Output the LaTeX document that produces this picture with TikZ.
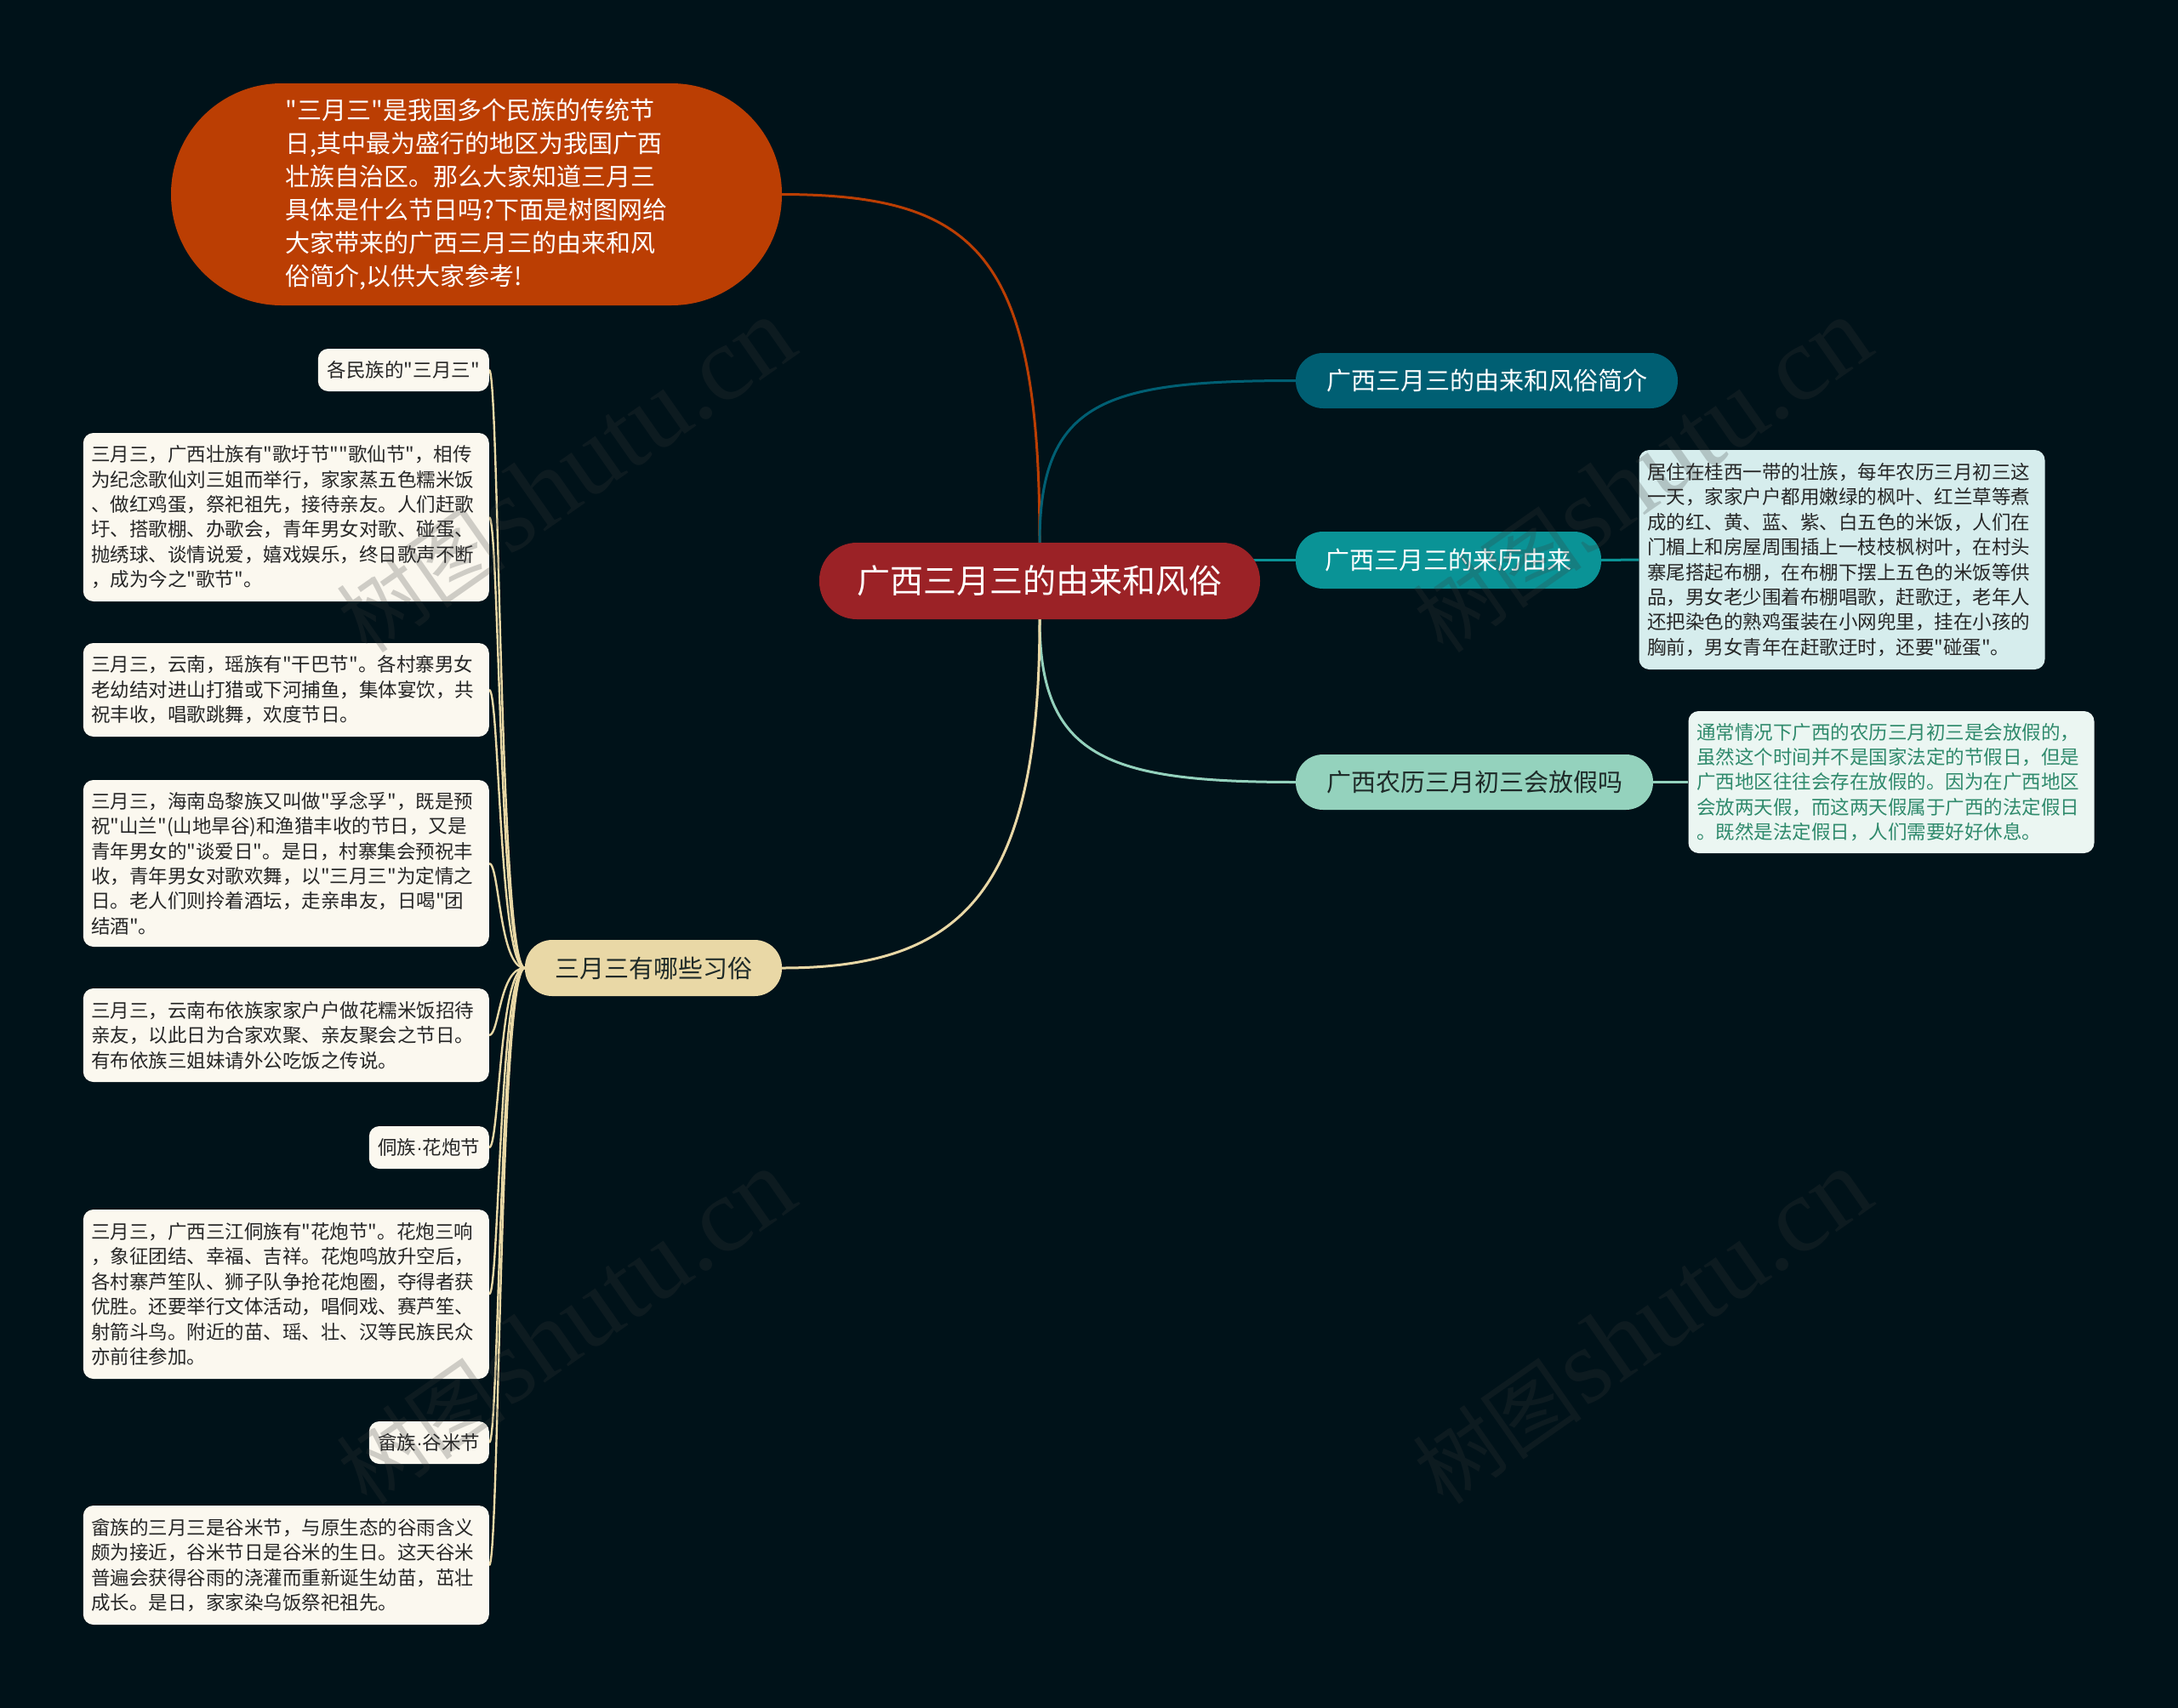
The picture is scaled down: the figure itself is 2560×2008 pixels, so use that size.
\documentclass[tikz,border=0pt]{standalone}
\usepackage{fontspec}
\setmainfont{Noto Sans CJK SC}[Ligatures=TeXOff]
\newfontfamily\wmlatin{Liberation Serif}
\newfontfamily\latinf{Liberation Sans}
\usetikzlibrary{calc}
\pgfdeclarelayer{bglayer}
\pgfsetlayers{bglayer,main}
\definecolor{bgc}{HTML}{001219}
\definecolor{introc}{HTML}{BB3E03}
\definecolor{rootc}{HTML}{9B2226}
\definecolor{bonec}{HTML}{005F73}
\definecolor{btwoc}{HTML}{0A9396}
\definecolor{bthreec}{HTML}{94D2BD}
\definecolor{bfourc}{HTML}{E9D8A6}
\definecolor{leafc}{HTML}{FBF8EF}
\definecolor{leaftxt}{HTML}{262626}
\definecolor{rtwoc}{HTML}{D6EDED}
\definecolor{rthreec}{HTML}{EBF6F2}
\definecolor{rthreetxt}{HTML}{2F8A6C}
\definecolor{darktxt}{HTML}{1E2A28}
\definecolor{wmc}{RGB}{58,58,58}
\tikzset{
  smallfont/.style={font=\fontsize{22.5}{29.4}\selectfont},
  leafbox/.style={smallfont, rounded corners=12pt, align=left, inner xsep=9.5pt, inner ysep=0pt, text width=458pt, minimum width=477pt},
  leafL/.style={leafbox, fill=leafc, text=leaftxt, anchor=east},
  tagL/.style={smallfont, fill=leafc, text=leaftxt, rounded corners=12pt, inner xsep=0pt, inner ysep=0pt, minimum height=50pt, anchor=east},
  branch/.style={font=\fontsize{29}{36}\selectfont, rounded corners=32pt, inner sep=0pt, minimum height=65pt},
  conn/.style={line width=3pt},
  lk/.style={line width=2.4pt, bfourc},
  wm/.style={rotate=35, text=wmc, opacity=0.23, inner sep=0pt}
}
\newcommand{\wmtext}{{\fontsize{100}{110}\selectfont 树图} {\wmlatin\fontsize{125}{130}\selectfont shutu.cn}}
\begin{document}
\begin{tikzpicture}[x=1pt,y=-1pt]
\useasboundingbox (0,0) rectangle (2560,2008);

% central and intro
\node[fill=rootc, text=white, font=\fontsize{39}{46}\selectfont, rounded corners=44pt, inner sep=0pt, minimum width=518pt, minimum height=90pt] (root) at (1222,683) {广西三月三的由来和风俗};
\node[fill=introc, text=white, font=\fontsize{29}{39}\selectfont, align=left, rounded corners=130pt, inner sep=0pt, minimum width=718pt, minimum height=261pt] (intro) at (560,228.5) {"三月三"是我国多个民族的传统节\\日,其中最为盛行的地区为我国广西\\壮族自治区。那么大家知道三月三\\具体是什么节日吗?下面是树图网给\\大家带来的广西三月三的由来和风\\俗简介,以供大家参考!};

% branches
\node[branch, fill=bonec, text=white, minimum width=449pt] (b1) at (1747.5,447.5) {广西三月三的由来和风俗简介};
\node[branch, fill=btwoc, text=white, minimum width=359pt, minimum height=67pt] (b2) at (1702.5,658.5) {广西三月三的来历由来};
\node[branch, fill=bthreec, text=darktxt, minimum width=420pt] (b3) at (1733,919.5) {广西农历三月初三会放假吗};
\node[branch, fill=bfourc, text=darktxt, minimum width=302pt, minimum height=66pt] (b4) at (768,1138) {三月三有哪些习俗};

% right leaves
\node[leafbox, fill=rtwoc, text=leaftxt, minimum height=258pt] (r2) at (2165,658) {居住在桂西一带的壮族，每年农历三月初三这\\一天，家家户户都用嫩绿的枫叶、红兰草等煮\\成的红、黄、蓝、紫、白五色的米饭，人们在\\门楣上和房屋周围插上一枝枝枫树叶，在村头\\寨尾搭起布棚，在布棚下摆上五色的米饭等供\\品，男女老少围着布棚唱歌，赶歌迂，老年人\\还把染色的熟鸡蛋装在小网兜里，挂在小孩的\\胸前，男女青年在赶歌迂时，还要"碰蛋"。};
\node[leafbox, fill=rthreec, text=rthreetxt, minimum height=167pt] (r3) at (2223,919.5) {通常情况下广西的农历三月初三是会放假的，\\虽然这个时间并不是国家法定的节假日，但是\\广西地区往往会存在放假的。因为在广西地区\\会放两天假，而这两天假属于广西的法定假日\\。既然是法定假日，人们需要好好休息。};

% left leaves
\node[tagL, minimum width=201pt] (t0) at (575,435) {各民族的"三月三"};
\node[leafL, minimum height=198pt] (la) at (575,608) {三月三，广西壮族有"歌圩节""歌仙节"，相传\\为纪念歌仙刘三姐而举行，家家蒸五色糯米饭\\、做红鸡蛋，祭祀祖先，接待亲友。人们赶歌\\圩、搭歌棚、办歌会，青年男女对歌、碰蛋、\\抛绣球、谈情说爱，嬉戏娱乐，终日歌声不断\\，成为今之"歌节"。};
\node[leafL, minimum height=110pt] (lb) at (575,811) {三月三，云南，瑶族有"干巴节"。各村寨男女\\老幼结对进山打猎或下河捕鱼，集体宴饮，共\\祝丰收，唱歌跳舞，欢度节日。};
\node[leafL, minimum height=196pt] (lc) at (575,1015) {三月三，海南岛黎族又叫做"孚念孚"，既是预\\祝"山兰"(山地旱谷)和渔猎丰收的节日，又是\\青年男女的"谈爱日"。是日，村寨集会预祝丰\\收，青年男女对歌欢舞，以"三月三"为定情之\\日。老人们则拎着酒坛，走亲串友，日喝"团\\结酒"。};
\node[leafL, minimum height=110pt] (ld) at (575,1217) {三月三，云南布依族家家户户做花糯米饭招待\\亲友，以此日为合家欢聚、亲友聚会之节日。\\有布依族三姐妹请外公吃饭之传说。};
\node[tagL, minimum width=141pt] (t1) at (575,1349) {侗族{\latinf ·}花炮节};
\node[leafL, minimum height=199pt] (le) at (575,1521.5) {三月三，广西三江侗族有"花炮节"。花炮三响\\，象征团结、幸福、吉祥。花炮鸣放升空后，\\各村寨芦笙队、狮子队争抢花炮圈，夺得者获\\优胜。还要举行文体活动，唱侗戏、赛芦笙、\\射箭斗鸟。附近的苗、瑶、壮、汉等民族民众\\亦前往参加。};
\node[tagL, minimum width=141pt] (t2) at (575,1696) {畲族{\latinf ·}谷米节};
\node[leafL, minimum height=140pt] (lf) at (575,1840) {畲族的三月三是谷米节，与原生态的谷雨含义\\颇为接近，谷米节日是谷米的生日。这天谷米\\普遍会获得谷雨的浇灌而重新诞生幼苗，茁壮\\成长。是日，家家染乌饭祭祀祖先。};

% watermarks
\node[wm] (wm1) at (665,560) {\wmtext};
\node[wm] (wm2) at (1930,560) {\wmtext};
\node[wm] (wm3) at (665,1561) {\wmtext};
\node[wm] (wm4) at (1930,1561) {\wmtext};

\begin{pgfonlayer}{bglayer}
\fill[bgc] (0,0) rectangle (2560,2008);
\draw[conn, introc] (root.north) .. controls (1222,300) and (1150,229) .. (intro.east);
\draw[conn, bonec] (root.north) .. controls (1222,470) and (1300,447.5) .. (b1.west);
\draw[conn, btwoc] (b2.west) -- (root.center |- b2.west);
\draw[conn, bthreec] (root.south) .. controls (1222,890) and (1300,919.5) .. (b3.west);
\draw[conn, bfourc] (root.south) .. controls (1222,1050) and (1130,1138) .. (b4.east);
\draw[conn, btwoc] (b2.east) -- (r2.west);
\draw[conn, bthreec] (b3.east) -- (r3.west);
\foreach \n in {t0,la,lb,lc,ld,t1,le,t2,lf}
  \draw[lk] (b4.west) .. controls +(-30,0) and +(12,0) .. (\n.east);
\end{pgfonlayer}
\end{tikzpicture}
\end{document}
